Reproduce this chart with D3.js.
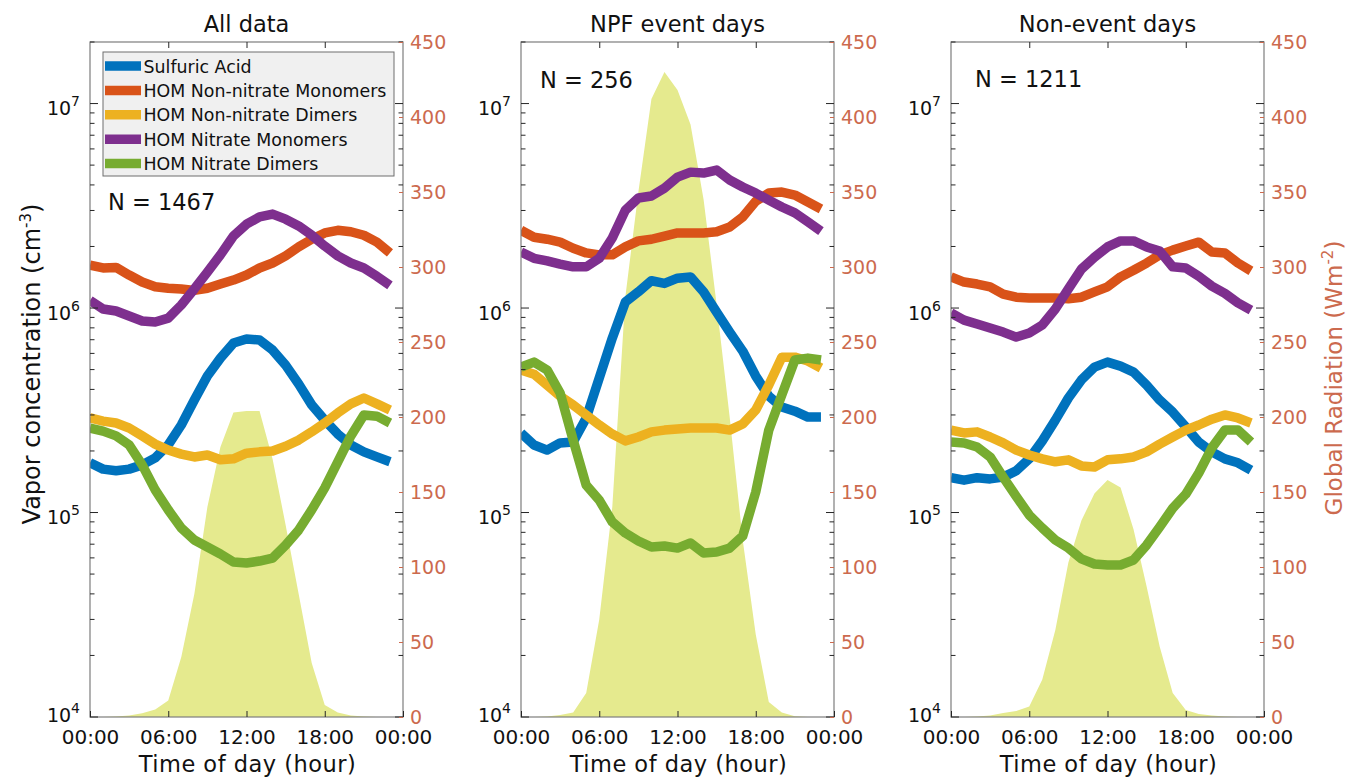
<!DOCTYPE html>
<html><head><meta charset="utf-8">
<script src="https://cdn.jsdelivr.net/npm/d3@7"></script>
<style>
html,body{margin:0;padding:0;background:#fff;}
svg{display:block;font-family:"DejaVu Sans",sans-serif;}
</style></head><body>
<svg id="chart" width="1346" height="777"></svg>
<script>
// ---------------- DATA ----------------
const HOURS = d3.range(0, 24);
const PANEL_TITLES = ["All data", "NPF event days", "Non-event days"];
const N_LABELS = ["N = 1467", "N = 256", "N = 1211"];
const SERIES_NAMES = ["Sulfuric Acid", "HOM Non-nitrate Monomers", "HOM Non-nitrate Dimers", "HOM Nitrate Monomers", "HOM Nitrate Dimers"];
const SERIES_COLORS = ["#0072BD", "#D95319", "#EDB120", "#7E2F8E", "#77AC30"];
const X_TICKS = [0, 6, 12, 18, 24];
const X_TICK_LABELS = ["00:00", "06:00", "12:00", "18:00", "00:00"];
const RAD_TICKS = [0, 50, 100, 150, 200, 250, 300, 350, 400, 450];
const LOG_TICKS = [1e4, 1e5, 1e6, 1e7];

// All data
const allSA  = [1.75e5,1.63e5,1.60e5,1.63e5,1.71e5,1.85e5,2.14e5,2.68e5,3.55e5,4.65e5,5.69e5,6.74e5,7.05e5,6.98e5,6.23e5,5.26e5,4.25e5,3.36e5,2.83e5,2.42e5,2.14e5,1.98e5,1.87e5,1.77e5];
const allNNM = [1.62e6,1.57e6,1.58e6,1.45e6,1.34e6,1.27e6,1.25e6,1.24e6,1.22e6,1.25e6,1.31e6,1.37e6,1.45e6,1.57e6,1.66e6,1.80e6,1.99e6,2.17e6,2.33e6,2.40e6,2.36e6,2.27e6,2.10e6,1.86e6];
const allNND = [2.90e5,2.80e5,2.74e5,2.59e5,2.37e5,2.16e5,2.02e5,1.93e5,1.87e5,1.91e5,1.81e5,1.83e5,1.95e5,1.98e5,2.00e5,2.11e5,2.26e5,2.48e5,2.74e5,3.07e5,3.40e5,3.63e5,3.40e5,3.17e5];
const allNM  = [1.09e6,9.89e5,9.67e5,9.14e5,8.64e5,8.54e5,8.93e5,1.035e6,1.24e6,1.50e6,1.82e6,2.25e6,2.57e6,2.79e6,2.88e6,2.72e6,2.52e6,2.27e6,2.01e6,1.80e6,1.66e6,1.57e6,1.43e6,1.29e6];
const allND  = [2.59e5,2.50e5,2.37e5,2.14e5,1.71e5,1.29e5,1.03e5,8.40e4,7.34e4,6.78e4,6.27e4,5.73e4,5.66e4,5.79e4,5.99e4,6.93e4,8.21e4,1.03e5,1.32e5,1.77e5,2.37e5,3.00e5,2.96e5,2.74e5];
const allRad = [0,0,0.3,1,2.5,5,11,40,82,140,180,203,204,204,172,128,82,36,8,3,1,0.3,0,0];

// NPF event days
const npfSA  = [2.45e5,2.14e5,2.02e5,2.19e5,2.21e5,2.90e5,4.55e5,7.13e5,1.07e6,1.20e6,1.36e6,1.32e6,1.40e6,1.42e6,1.20e6,9.55e5,7.63e5,6.16e5,4.65e5,3.71e5,3.28e5,3.13e5,2.93e5,2.93e5];
const npfNNM = [2.40e6,2.22e6,2.17e6,2.10e6,1.96e6,1.86e6,1.82e6,1.82e6,1.99e6,2.13e6,2.17e6,2.25e6,2.33e6,2.33e6,2.33e6,2.36e6,2.49e6,2.79e6,3.33e6,3.65e6,3.69e6,3.57e6,3.30e6,3.05e6];
const npfNND = [4.98e5,4.75e5,4.20e5,3.71e5,3.36e5,3.00e5,2.68e5,2.42e5,2.24e5,2.34e5,2.48e5,2.53e5,2.56e5,2.59e5,2.59e5,2.59e5,2.53e5,2.71e5,3.17e5,4.20e5,5.75e5,5.75e5,5.51e5,5.09e5];
const npfNM  = [1.88e6,1.75e6,1.70e6,1.64e6,1.59e6,1.59e6,1.75e6,2.20e6,3.01e6,3.45e6,3.53e6,3.86e6,4.37e6,4.62e6,4.57e6,4.73e6,4.23e6,3.91e6,3.65e6,3.37e6,3.12e6,2.92e6,2.64e6,2.38e6];
const npfND  = [5.15e5,5.44e5,4.98e5,3.84e5,2.26e5,1.36e5,1.15e5,8.99e4,7.94e4,7.26e4,6.78e4,6.86e4,6.70e4,7.10e4,6.34e4,6.41e4,6.70e4,7.67e4,1.26e5,2.53e5,3.76e5,5.57e5,5.69e5,5.57e5];
const npfRad = [0,0,0.3,1.3,3,16,65,140,280,350,412,430,418,395,345,275,200,118,55,10,3,0.5,0,0];

// Non-event days
const nonSA  = [1.48e5,1.44e5,1.48e5,1.46e5,1.49e5,1.60e5,1.83e5,2.24e5,2.83e5,3.63e5,4.45e5,5.14e5,5.44e5,5.20e5,4.86e5,4.20e5,3.55e5,3.10e5,2.62e5,2.21e5,1.98e5,1.83e5,1.75e5,1.61e5];
const nonNNM = [1.42e6,1.34e6,1.31e6,1.27e6,1.17e6,1.13e6,1.12e6,1.12e6,1.12e6,1.11e6,1.13e6,1.20e6,1.27e6,1.42e6,1.53e6,1.66e6,1.82e6,1.92e6,2.01e6,2.10e6,1.88e6,1.86e6,1.66e6,1.52e6];
const nonNND = [2.53e5,2.45e5,2.48e5,2.34e5,2.19e5,2.02e5,1.91e5,1.83e5,1.77e5,1.81e5,1.69e5,1.67e5,1.81e5,1.83e5,1.87e5,1.98e5,2.16e5,2.34e5,2.53e5,2.68e5,2.86e5,3.00e5,2.90e5,2.74e5];
const nonNM  = [9.46e5,8.73e5,8.35e5,7.98e5,7.63e5,7.21e5,7.55e5,8.26e5,9.89e5,1.24e6,1.55e6,1.77e6,1.99e6,2.13e6,2.13e6,1.99e6,1.90e6,1.59e6,1.57e6,1.43e6,1.28e6,1.18e6,1.06e6,9.77e5];
const nonND  = [2.21e5,2.19e5,2.09e5,1.87e5,1.49e5,1.20e5,9.72e4,8.40e4,7.34e4,6.70e4,5.93e4,5.60e4,5.54e4,5.54e4,5.86e4,6.93e4,8.49e4,1.05e5,1.23e5,1.56e5,2.07e5,2.53e5,2.53e5,2.21e5];
const nonRad = [0,0,0.3,1,2.7,4,7,25,58,103,131,149,158,153,125,87,47,16,4.7,2,1,0.3,0,0];

// ---------------- LAYOUT / STYLE ----------------
const PANEL_X = [90, 521, 951];
const PW = 313, TOP = 42, BOTTOM = 717;
const N_POS = [[18, 210], [19, 88], [24, 87]];
const RAD_COLOR = "#cc6a4e";
const AREA_COLOR = "#e5ea8e";
const TEXT_COLOR = "#111";
const TICK_COLOR = "#262626";
const BOX_COLOR = "#7d7d7d";

const panels = [
  { series: [allSA, allNNM, allNND, allNM, allND], rad: allRad },
  { series: [npfSA, npfNNM, npfNND, npfNM, npfND], rad: npfRad },
  { series: [nonSA, nonNNM, nonNND, nonNM, nonND], rad: nonRad }
];

const svg = d3.select("#chart");
const defs = svg.append("defs");

panels.forEach((p, pi) => {
  const x0 = PANEL_X[pi], x1 = x0 + PW;
  const x = d3.scaleLinear().domain([0, 24]).range([x0, x1]);
  const y = d3.scaleLog().domain([1e4, 2e7]).range([BOTTOM, TOP]);
  const yR = d3.scaleLinear().domain([0, 450]).range([BOTTOM, TOP]);

  const clipId = "clip" + pi;
  defs.append("clipPath").attr("id", clipId).append("rect")
    .attr("x", x0).attr("y", TOP).attr("width", PW).attr("height", BOTTOM - TOP);

  const g = svg.append("g");
  const plot = g.append("g").attr("clip-path", `url(#${clipId})`);

  // radiation area
  plot.append("path").datum(p.rad)
    .attr("fill", AREA_COLOR)
    .attr("d", d3.area().x((d, i) => x(HOURS[i])).y0(yR(0)).y1(d => yR(d)));

  // concentration lines
  p.series.forEach((s, si) => {
    plot.append("path").datum(s)
      .attr("fill", "none")
      .attr("stroke", SERIES_COLORS[si])
      .attr("stroke-width", 9.5)
      .attr("stroke-linejoin", "round")
      .attr("d", d3.line().x((d, i) => x(HOURS[i])).y(d => y(d)));
  });

  // box
  g.append("rect").attr("x", x0).attr("y", TOP).attr("width", PW).attr("height", BOTTOM - TOP)
    .attr("fill", "none").attr("stroke", BOX_COLOR).attr("stroke-width", 1.2);

  // log ticks (left + mirrored right)
  LOG_TICKS.forEach(dec => {
    for (let k = 1; k <= 9; k++) {
      const v = k * dec;
      if (v > 2e7) break;
      const yy = y(v), len = k === 1 ? 8 : 4.5;
      g.append("line").attr("x1", x0).attr("x2", x0 + len).attr("y1", yy).attr("y2", yy)
        .attr("stroke", TICK_COLOR).attr("stroke-width", 1);
      g.append("line").attr("x1", x1).attr("x2", x1 - len).attr("y1", yy).attr("y2", yy)
        .attr("stroke", TICK_COLOR).attr("stroke-width", 1);
    }
  });

  // log tick labels 10^n
  LOG_TICKS.forEach(v => {
    const base = Math.min(y(v) + 11.5, BOTTOM + 5);
    const t = g.append("text").attr("x", x0 - 10).attr("y", base)
      .attr("text-anchor", "end").attr("fill", TEXT_COLOR);
    t.append("tspan").attr("font-size", 19).text("10");
    t.append("tspan").attr("font-size", 14).attr("dy", -9).text(Math.round(Math.log10(v)));
  });

  // bottom axis
  const xb = g.append("g").attr("transform", `translate(0,${BOTTOM})`)
    .call(d3.axisBottom(x).tickValues(X_TICKS).tickFormat((d, i) => X_TICK_LABELS[i])
      .tickSizeInner(-6).tickSizeOuter(0).tickPadding(13));
  xb.select(".domain").remove();
  xb.selectAll("line").attr("stroke", TICK_COLOR);
  xb.selectAll("text").attr("font-size", 20).attr("fill", TEXT_COLOR).attr("font-family", "DejaVu Sans");

  // top axis ticks
  const xt = g.append("g").attr("transform", `translate(0,${TOP})`)
    .call(d3.axisTop(x).tickValues([6, 12, 18]).tickFormat("").tickSizeInner(-6).tickSizeOuter(0));
  xt.select(".domain").remove();
  xt.selectAll("line").attr("stroke", TICK_COLOR);

  // right radiation axis
  const yr = g.append("g").attr("transform", `translate(${x1},0)`)
    .call(d3.axisRight(yR).tickValues(RAD_TICKS).tickSizeInner(-4).tickSizeOuter(0).tickPadding(7));
  yr.select(".domain").remove();
  yr.selectAll("line").attr("stroke", RAD_COLOR);
  yr.selectAll("text").attr("font-size", 19).attr("fill", RAD_COLOR).attr("font-family", "DejaVu Sans");

  // title
  g.append("text").attr("x", (x0 + x1) / 2).attr("y", 31.7).attr("text-anchor", "middle")
    .attr("font-size", 22.5).attr("fill", TEXT_COLOR).text(PANEL_TITLES[pi]);

  // N label
  g.append("text").attr("x", x0 + N_POS[pi][0]).attr("y", N_POS[pi][1])
    .attr("font-size", 22.5).attr("fill", TEXT_COLOR).text(N_LABELS[pi]);

  // x label
  g.append("text").attr("x", (x0 + x1) / 2 + 1).attr("y", 771.5).attr("text-anchor", "middle")
    .attr("font-size", 22.5).attr("letter-spacing", 0.5).attr("fill", TEXT_COLOR).text("Time of day (hour)");

  // legend (first panel)
  if (pi === 0) {
    const lg = g.append("g");
    lg.append("rect").attr("x", 103).attr("y", 52).attr("width", 291).attr("height", 124)
      .attr("fill", "#f0f0f0").attr("stroke", "#6e6e6e").attr("stroke-width", 1);
    SERIES_NAMES.forEach((name, i) => {
      const cy = 66 + i * 24.4;
      lg.append("line").attr("x1", 105).attr("x2", 141).attr("y1", cy).attr("y2", cy)
        .attr("stroke", SERIES_COLORS[i]).attr("stroke-width", 9.5);
      lg.append("text").attr("x", 143.5).attr("y", cy + 6.5).attr("font-size", 17.4)
        .attr("fill", TEXT_COLOR).text(name);
    });
  }
});

// left y label
const yl = svg.append("text").attr("transform", "translate(40,364) rotate(-90)")
  .attr("text-anchor", "middle").attr("fill", TEXT_COLOR).attr("font-size", 24);
yl.append("tspan").text("Vapor concentration (cm");
yl.append("tspan").attr("font-size", 15).attr("dy", -9).text("-3");
yl.append("tspan").attr("dy", 9).text(")");

// right y label
const yrl = svg.append("text").attr("transform", "translate(1342,378) rotate(-90)")
  .attr("text-anchor", "middle").attr("fill", RAD_COLOR).attr("font-size", 23);
yrl.append("tspan").text("Global Radiation (Wm");
yrl.append("tspan").attr("font-size", 15).attr("dy", -9).text("-2");
yrl.append("tspan").attr("dy", 9).text(")");
</script></body></html>
